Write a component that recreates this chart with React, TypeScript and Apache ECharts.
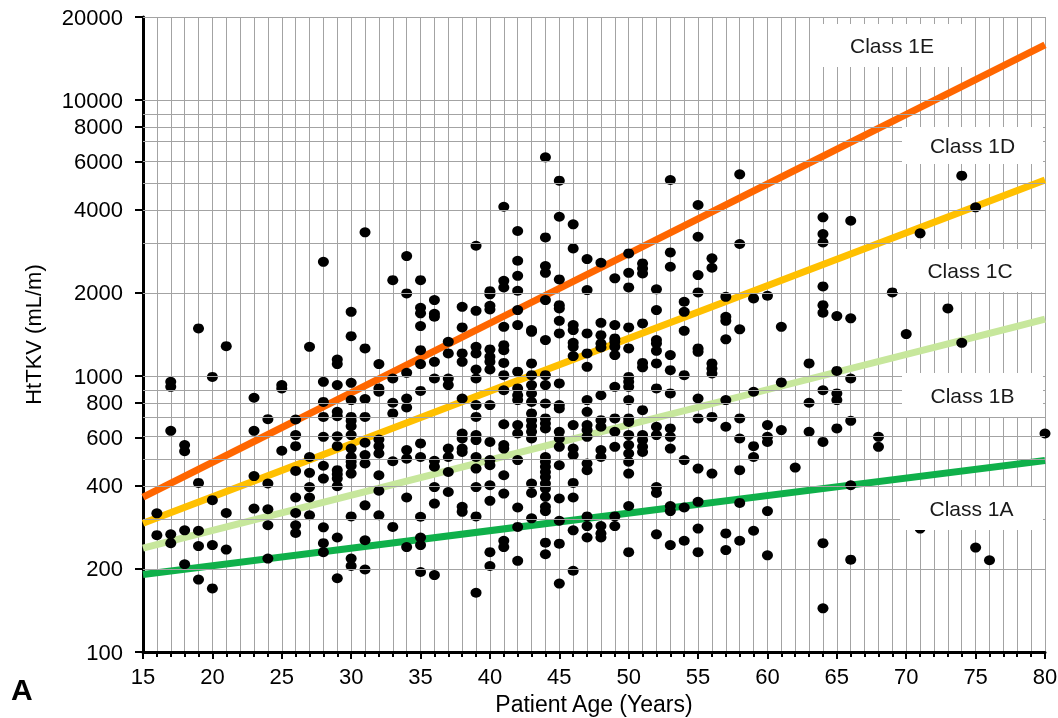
import React, { useEffect, useRef } from "react";
import * as echarts from "echarts";

// ---- Data ----
const scatterAges: number[] = [
  16, 17, 18, 19, 20, 21, 23, 24, 25, 26, 27, 28, 29, 30, 31, 32, 33, 34, 35, 36,
  37, 38, 39, 40, 41, 42, 43, 44, 45, 46, 47, 48, 49, 50, 51, 52, 53, 54, 55, 56,
  57, 58, 59, 60, 61, 62, 63, 64, 65, 66, 68, 69, 70, 71, 73, 74, 75, 76, 80,
];
const scatterValues: number[][] = [
  [318, 265],
  [953, 914, 633, 267, 248],
  [562, 534, 276, 208],
  [1488, 410, 275, 242, 183],
  [993, 355, 244, 170],
  [1283, 319, 235],
  [834, 633, 434, 331],
  [698, 408, 329, 288, 218],
  [927, 902, 536],
  [696, 611, 557, 453, 363, 319, 288, 270],
  [1276, 509, 446, 396, 363, 313],
  [2594, 953, 806, 711, 602, 473, 425, 283, 248, 230],
  [1148, 1105, 927, 742, 715, 605, 557, 456, 441, 425, 399, 260, 185],
  [1709, 1395, 945, 818, 711, 688, 658, 611, 546, 509, 489, 473, 443, 310, 218, 205],
  [3316, 1259, 825, 711, 573, 517, 482, 340, 254, 199],
  [1105, 902, 877, 589, 557, 524, 437, 384, 313],
  [2226, 980, 800, 732, 491, 284],
  [2721, 1993, 1027, 829, 769, 539, 502, 363, 240],
  [2226, 1767, 1687, 1517, 1241, 1105, 883, 570, 509, 309, 260, 244, 195],
  [1885, 1681, 1640, 1126, 980, 493, 469, 396, 345, 190],
  [1331, 1208, 980, 927, 546, 509, 449, 380],
  [1782, 1500, 1208, 1126, 829, 619, 594, 546, 531, 336, 322],
  [2966, 1723, 1276, 1208, 1056, 980, 785, 711, 611, 586, 509, 462, 396, 310, 164],
  [2030, 1977, 1797, 1744, 1249, 1174, 1126, 1056, 785, 577, 496, 475, 402, 353, 230, 205],
  [4107, 2214, 2095, 1508, 1294, 1241, 1116, 1007, 888, 669, 562, 546, 437, 375, 253, 240],
  [3353, 2617, 2308, 2037, 1734, 1530, 1037, 902, 852, 818, 664, 619, 496, 334, 284, 214],
  [1467, 1446, 1111, 1007, 927, 865, 806, 732, 692, 659, 628, 594, 408, 377, 305],
  [6203, 3180, 2503, 2366, 1885, 1350, 1007, 927, 795, 702, 673, 646, 509, 489, 469, 449, 431, 408, 391, 365, 336, 324, 249, 226],
  [5103, 3777, 2239, 1807, 1758, 1585, 1427, 940, 785, 763, 628, 594, 554, 475, 360, 299, 247, 177],
  [3545, 2901, 1530, 1467, 1319, 1276, 1181, 664, 546, 517, 410, 363, 276, 197],
  [2654, 2049, 1427, 1208, 1080, 818, 742, 664, 637, 602, 482, 456, 310, 286, 260],
  [2573, 1559, 1406, 1313, 1270, 852, 692, 655, 539, 509, 286, 269, 260],
  [2259, 1530, 1369, 1332, 1276, 1191, 914, 702, 628, 554, 310, 286],
  [2782, 2366, 2095, 1500, 1259, 993, 953, 914, 818, 702, 682, 611, 562, 524, 489, 443, 338, 230],
  [2559, 2455, 2355, 1551, 1116, 1075, 752, 611, 586, 554, 531],
  [2061, 1734, 1350, 1313, 1234, 1111, 902, 655, 611, 396, 377, 267],
  [5132, 2806, 2489, 1191, 1050, 865, 646, 602, 546, 338, 324, 244],
  [1858, 1709, 1458, 1007, 496, 334, 253],
  [4166, 3197, 2322, 2009, 1259, 1224, 829, 702, 462, 350, 280, 230],
  [2670, 2468, 1111, 1066, 1022, 711, 443],
  [1937, 1639, 1585, 1358, 818, 655, 269, 234],
  [5383, 3009, 1476, 702, 594, 456, 347, 253],
  [1911, 877, 557, 509, 275],
  [1954, 664, 602, 577, 324, 224],
  [1508, 948, 637],
  [466],
  [1111, 800, 628],
  [3758, 3270, 3050, 2112, 1807, 1695, 888, 577, 248, 144],
  [1649, 1044, 865, 818, 646],
  [3654, 1618, 980, 688, 402, 216],
  [602, 554],
  [2009],
  [1419],
  [3289, 280],
  [1758],
  [5321, 1319],
  [4087, 239],
  [215],
  [619],
];

const lineAges: number[] = [15, 80];
const class1A: number[] = [191, 494];
const class1B: number[] = [238, 1607];
const class1C: number[] = [293, 5130];
const class1D: number[] = [364, 15850];

const yTickLabels: number[] = [100, 200, 400, 600, 800, 1000, 2000, 4000, 6000, 8000, 10000, 20000];
const yGridValues: number[] = [
  200, 300, 400, 500, 600, 700, 800, 900, 1000,
  2000, 3000, 4000, 5000, 6000, 7000, 8000, 9000, 10000, 20000,
];
const classLabels: string[] = ["Class 1E", "Class 1D", "Class 1C", "Class 1B", "Class 1A"];

// ---- Styling ----
const FONT = "'Liberation Sans', Arial, Helvetica, sans-serif";
const GRID_COLOR = "#A3A3A3";
const log = (v: number) => Math.log10(v);

// label boxes (pixel layout)
const boxes = [
  { x: 817, y: 24, w: 150, h: 43 },
  { x: 902, y: 127, w: 141, h: 37 },
  { x: 897, y: 249, w: 146, h: 43 },
  { x: 902, y: 373, w: 141, h: 44 },
  { x: 900, y: 487, w: 143, h: 43 },
];

export default function App() {
  const ref = useRef<HTMLDivElement>(null);

  useEffect(() => {
    const chart = echarts.init(ref.current!, null, { renderer: "svg" });

    const points: number[][] = [];
    scatterAges.forEach((a, i) => {
      scatterValues[i].forEach((v) => points.push([a, log(v)]));
    });

    const classLine = (name: string, vals: number[], color: string) => ({
      type: "line",
      name,
      data: lineAges.map((a, i) => [a, log(vals[i])]),
      symbol: "none",
      silent: true,
      z: 3,
      lineStyle: { color, width: 7, cap: "butt" },
    });

    const graphic: any[] = [];
    boxes.forEach((b, i) => {
      graphic.push({
        type: "rect",
        z: 100,
        silent: true,
        shape: { x: b.x, y: b.y, width: b.w, height: b.h },
        style: { fill: "#ffffff" },
      });
      graphic.push({
        type: "text",
        z: 101,
        silent: true,
        x: b.x + b.w / 2,
        y: b.y + b.h / 2,
        style: {
          text: classLabels[i],
          fill: "#1a1a1a",
          font: `21px ${FONT}`,
          align: "center",
          verticalAlign: "middle",
        },
      });
    });
    graphic.push({
      type: "text",
      z: 101,
      x: 11,
      y: 674,
      style: { text: "A", fill: "#000", font: `bold 30px ${FONT}` },
    });

    chart.setOption({
      animation: false,
      grid: {
        left: 143,
        top: 17,
        width: 902,
        height: 635,
        containLabel: false,
        outerBoundsMode: "none",
      },
      xAxis: {
        type: "value",
        min: 15,
        max: 80,
        interval: 5,
        name: "Patient Age (Years)",
        nameLocation: "middle",
        nameGap: 40,
        nameTextStyle: { fontSize: 23, color: "#000", fontFamily: FONT },
        axisLine: { onZero: false, lineStyle: { color: "#000", width: 3 } },
        axisTick: { length: 7, lineStyle: { color: "#000", width: 2 } },
        minorTick: { show: true, splitNumber: 5, length: 5, lineStyle: { color: "#000", width: 2 } },
        splitLine: { show: true, lineStyle: { color: GRID_COLOR, width: 1 } },
        minorSplitLine: { show: true, lineStyle: { color: GRID_COLOR, width: 1 } },
        axisLabel: { fontSize: 22, color: "#000", fontFamily: FONT, margin: 13 },
      },
      yAxis: {
        type: "value",
        min: 2,
        max: log(20000),
        name: "HtTKV (mL/m)",
        nameLocation: "middle",
        nameGap: 99,
        nameTextStyle: { fontSize: 22, color: "#000", fontFamily: FONT },
        axisLine: { show: true, onZero: false, lineStyle: { color: "#000", width: 3 } },
        axisTick: {
          show: true,
          length: 8,
          customValues: yTickLabels.map(log),
          lineStyle: { color: "#000", width: 2 },
        },
        splitLine: { show: false },
        axisLabel: {
          customValues: yTickLabels.map(log),
          formatter: (v: number) => String(Math.round(Math.pow(10, v))),
          fontSize: 22,
          color: "#000",
          fontFamily: FONT,
          margin: 20,
        },
      },
      series: [
        {
          type: "scatter",
          name: "grid",
          data: [[15, 2]],
          symbolSize: 0,
          silent: true,
          z: 1,
          markLine: {
            silent: true,
            symbol: ["none", "none"],
            label: { show: false },
            lineStyle: { color: GRID_COLOR, width: 1, type: "solid" },
            emphasis: { disabled: true },
            data: yGridValues.map((v) => ({ yAxis: log(v) })),
          },
        },
        classLine("Class 1A", class1A, "#0FB04A"),
        classLine("Class 1B", class1B, "#C7E79C"),
        classLine("Class 1C", class1C, "#FFC000"),
        classLine("Class 1D", class1D, "#FF6600"),
        {
          type: "scatter",
          name: "Patients",
          data: points,
          symbol: "circle",
          symbolSize: [11, 10],
          itemStyle: { color: "#000", opacity: 1 },
          silent: true,
          z: 4,
        },
      ],
      graphic,
    });

    return () => chart.dispose();
  }, []);

  return (
    <div
      ref={ref}
      style={{ position: "fixed", left: 0, top: 0, width: 1058, height: 718 }}
    />
  );
}
